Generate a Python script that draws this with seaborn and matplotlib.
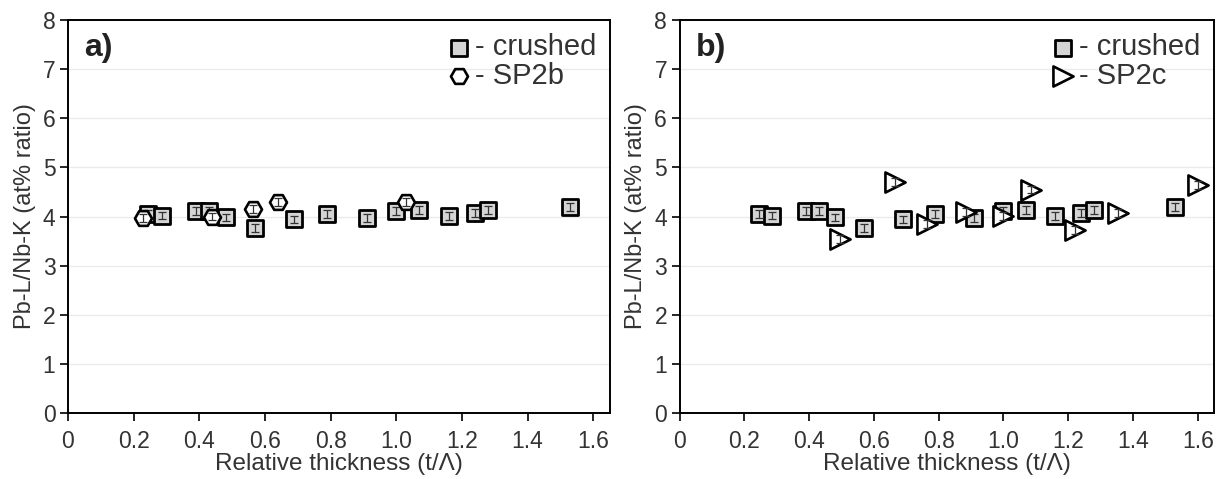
import matplotlib
matplotlib.use("Agg")
import matplotlib.pyplot as plt
import seaborn as sns
import pandas as pd

# crushed reference (same in both panels)
crushed_x = [0.245, 0.285, 0.39, 0.43, 0.48, 0.57, 0.69, 0.79, 0.91, 1.0, 1.07, 1.16, 1.24, 1.28, 1.53]
crushed_y = [4.05, 4.02, 4.12, 4.12, 3.98, 3.76, 3.94, 4.05, 3.97, 4.12, 4.13, 4.01, 4.08, 4.14, 4.19]

sp2b_x = [0.23, 0.44, 0.565, 0.64, 1.03]
sp2b_y = [3.97, 4.00, 4.15, 4.30, 4.30]

sp2c_x = [0.495, 0.665, 0.765, 0.885, 1.0, 1.085, 1.22, 1.355, 1.6]
sp2c_y = [3.54, 4.71, 3.84, 4.10, 4.01, 4.55, 3.73, 4.07, 4.65]

err = 0.08

sns.set_style("white")
plt.rcParams['font.family'] = ['Liberation Sans', 'DejaVu Sans']

fig = plt.figure(figsize=(12.2, 4.79), dpi=100)
ax1 = fig.add_axes([0.0557, 0.138, 0.444, 0.820])
ax2 = fig.add_axes([0.557, 0.138, 0.438, 0.820])


def panel(ax, xs, ys, marker, label, tag, msize):
    df_c = pd.DataFrame({"x": crushed_x, "y": crushed_y})
    df_s = pd.DataFrame({"x": xs, "y": ys})
    # small error bars drawn inside the markers
    ax.errorbar(crushed_x, crushed_y, yerr=err, fmt="none", ecolor="#333333",
                elinewidth=0.9, capsize=3, capthick=0.9, zorder=4)
    ax.errorbar(xs, ys, yerr=err, fmt="none", ecolor="#333333",
                elinewidth=0.9, capsize=3, capthick=0.9, zorder=6)
    sns.scatterplot(data=df_c, x="x", y="y", ax=ax, marker="s", s=140,
                    color="#d4d4d4", edgecolor="black", linewidth=2.0,
                    zorder=3, label="- crushed")
    sns.scatterplot(data=df_s, x="x", y="y", ax=ax, marker=marker, s=msize,
                    color="white", edgecolor="black", linewidth=1.9,
                    zorder=5, label=label)

    ax.set_xlim(0, 1.65)
    ax.set_ylim(0, 8)
    ax.set_xticks([0, 0.2, 0.4, 0.6, 0.8, 1.0, 1.2, 1.4, 1.6])
    ax.set_xticklabels(["0", "0.2", "0.4", "0.6", "0.8", "1.0", "1.2", "1.4", "1.6"])
    ax.set_yticks(range(0, 9))
    ax.yaxis.grid(True, color="#ebebeb", linewidth=1.0)
    ax.set_axisbelow(True)
    for sp in ax.spines.values():
        sp.set_color("black")
        sp.set_linewidth(1.4)
    ax.tick_params(axis="both", which="both", direction="out", length=6,
                   width=1.2, color="black", labelsize=16.5, labelcolor="#333333",
                   bottom=True, left=True, pad=3)
    ax.tick_params(axis="x", pad=6)
    ax.set_xlabel("Relative thickness (t/\u039b)", fontsize=17.5, color="#333333", labelpad=0)
    ax.set_ylabel("Pb-L/Nb-K (at% ratio)", fontsize=17, color="#333333", labelpad=5)
    ax.text(0.03, 0.967, tag, transform=ax.transAxes, fontsize=23,
            fontweight="bold", va="top", ha="left", color="#222222")
    leg = ax.legend(loc="upper right", frameon=False, fontsize=21,
                    handletextpad=0.15, borderaxespad=0.25, labelspacing=0.02,
                    markerscale=1.0, handlelength=0.8, borderpad=0.2)
    for t in leg.get_texts():
        t.set_color("#333333")


panel(ax1, sp2b_x, sp2b_y, "H", "- SP2b", "a)", 150)
panel(ax2, sp2c_x, sp2c_y, ">", "- SP2c", "b)", 210)

fig.savefig("out.png", dpi=100)
